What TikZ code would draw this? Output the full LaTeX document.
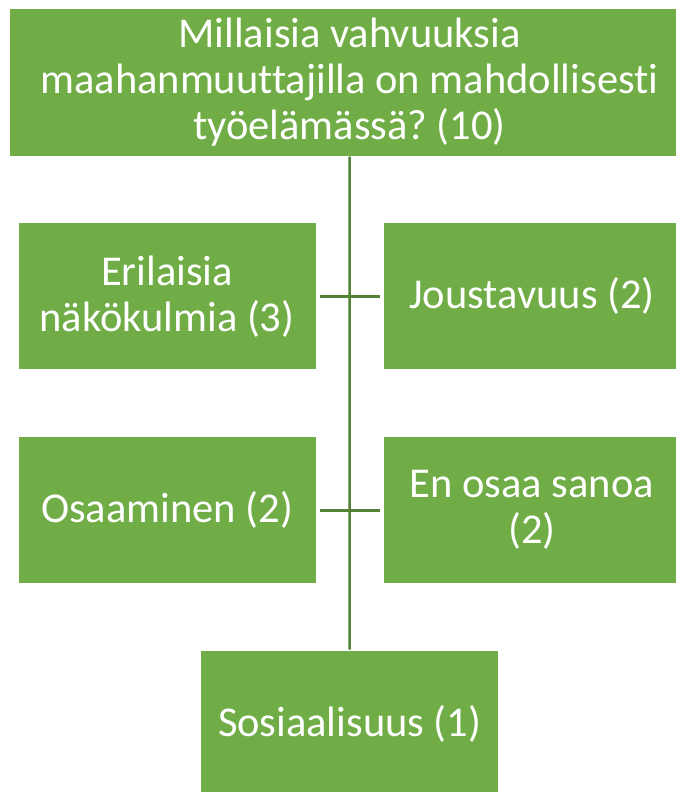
\documentclass[tikz,border=0pt]{standalone}
\usepackage{fontspec}
\setmainfont[Ligatures=NoCommon]{Carlito}
\usepackage{xcolor}
\definecolor{boxgreen}{HTML}{70AD47}
\definecolor{linegreen}{HTML}{548235}
\frenchspacing
\tikzset{
	box/.style={rectangle, fill=boxgreen, draw=white, line width=1pt, text=white, align=center,
		minimum width=298pt, minimum height=147pt, inner sep=0pt,
		font=\fontsize{42.5}{46}\selectfont},
	link/.style={draw=linegreen, line width=2.5pt}
}

\begin{document}
\begin{tikzpicture}[x=1pt, y=-1pt]
		\useasboundingbox (0,0) rectangle (676,792);
		\clip (0,0) rectangle (676,792);
		\fill[white] (0,0) rectangle (676,792);
		
		\node[box, minimum width=681pt] (kysymys) at (349.5, 82.5) {Millaisia vahvuuksia\\maahanmuuttajilla on mahdollisesti\\työelämässä? (10)};
		\node[box] (erilaisia) at (167, 296.3) {Erilaisia\\näkökulmia (3)};
		\node[box] (joustavuus) at (532, 296.3) {Joustavuus (2)};
		\node[box] (osaaminen) at (167, 510.3) {Osaaminen (2)};
		\node[box] (enosaa) at (532, 510.3) {En osaa sanoa\\(2)};
		\node[box] (sosiaalisuus) at (349.7, 723.5) {Sosiaalisuus (1)};
		
		\draw[link] (kysymys) -- (sosiaalisuus);
		\draw[link, shorten <=3pt, shorten >=3pt] (erilaisia) -- (joustavuus);
		\draw[link, shorten <=3pt, shorten >=3pt] (osaaminen) -- (enosaa);
	\end{tikzpicture}
\end{document}
